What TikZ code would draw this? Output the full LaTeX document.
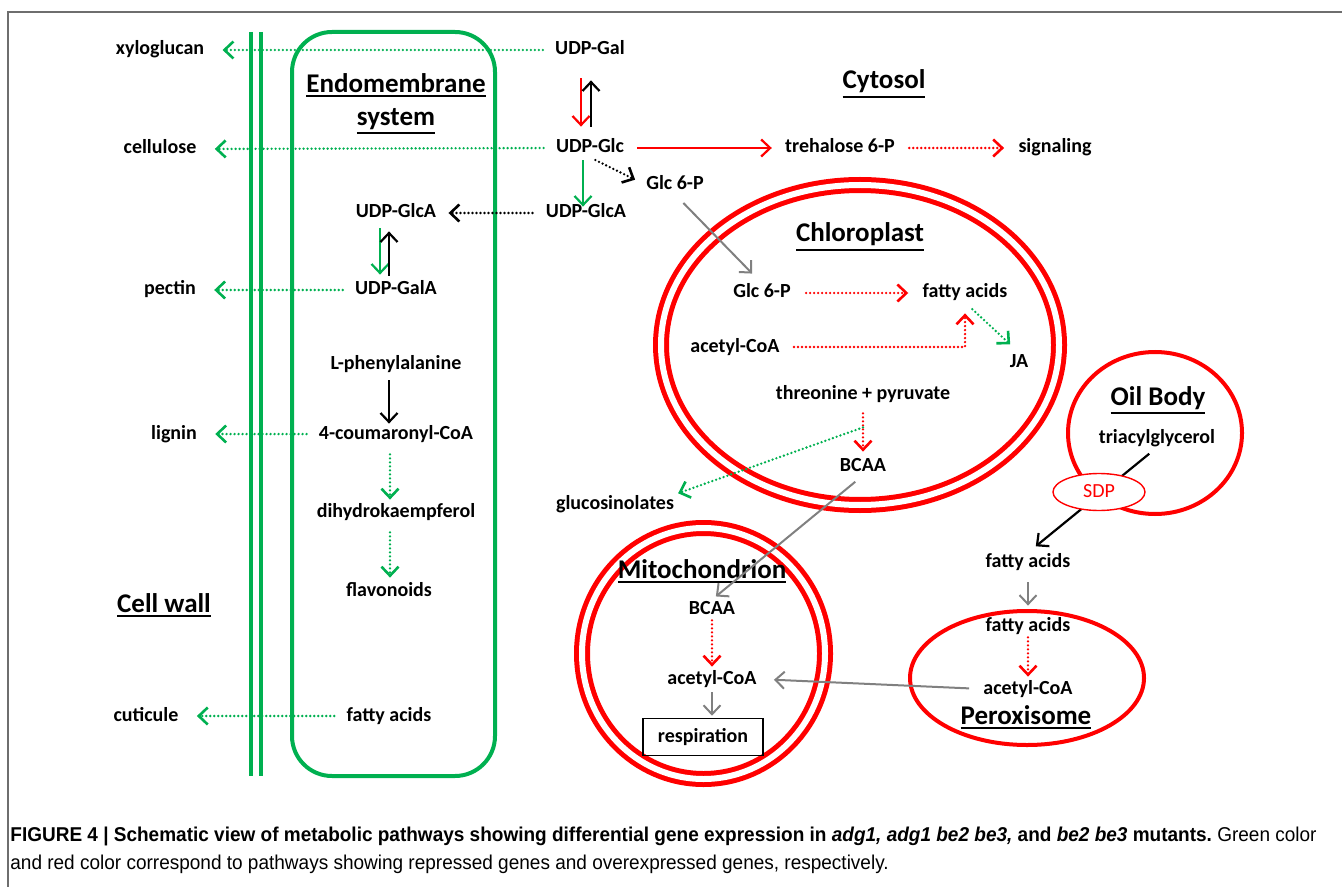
\documentclass[tikz,border=0pt]{standalone}
\usepackage{fontspec}
\setmainfont{Carlito}
\newfontfamily\capfont{Liberation Sans}[FakeStretch=0.95]
\usetikzlibrary{arrows.meta,shapes.geometric}
\definecolor{pathgreen}{RGB}{0,176,80}
\definecolor{pathred}{RGB}{255,0,0}
\definecolor{flowgray}{RGB}{128,128,128}
\definecolor{framegray}{RGB}{110,110,110}
\newcommand{\compartment}[1]{\vtop{\hbox{#1}\kern1.3pt\hrule height 0.9pt}}
\begin{document}
\begin{tikzpicture}[x=0.5pt,y=-0.5pt,>={Straight Barb[length=4.5pt,width=8.5pt]}]
\tikzstyle{every node}+=[inner sep=0pt,font=\bfseries,text height=7pt,text depth=2pt]
\tikzstyle{title}=[font=\fontsize{13.5}{16.5}\selectfont\bfseries,text height={},text depth={}]
\tikzstyle{caption}=[font=\capfont\fontsize{10}{12}\selectfont,text height={},text depth={},anchor=base west]
\tikzstyle{greendot}=[pathgreen,line width=1.3pt,dash pattern=on 0pt off 2pt,line cap=round,->]
\tikzstyle{reddot}=[pathred,line width=1.3pt,dash pattern=on 0pt off 2pt,line cap=round,->]
\tikzstyle{blackdot}=[black,line width=1.3pt,dash pattern=on 0pt off 2pt,line cap=round,->]
\tikzstyle{greenline}=[pathgreen,line width=1.1pt,->]
\tikzstyle{redline}=[pathred,line width=1.1pt,->]
\tikzstyle{blackline}=[black,line width=1.1pt,->]
\tikzstyle{grayline}=[flowgray,line width=1pt,->]
\tikzstyle{towall}=[greendot,shorten <=6pt,shorten >=9pt]
\tikzstyle{membrane}=[draw=pathred,line width=2.5pt,double=white,double distance=3pt]
\tikzstyle{singlemembrane}=[draw=pathred,line width=2pt]
\useasboundingbox (0,0) rectangle (1342,887);
\draw[framegray,line width=0.75pt] (1342,12) -- (8,12) -- (8,887);
\draw[pathgreen,line width=2pt] (251,32) -- (251,776) (261,32) -- (261,776);
\draw[pathgreen,line width=2pt,rounded corners=20pt] (292,32) rectangle (495,776);
\draw[membrane] (860,345) ellipse [x radius=99.5pt,y radius=80pt];
\draw[membrane] (703.5,653.5) ellipse [x radius=60.75pt,y radius=62.75pt];
\draw[singlemembrane] (1155,433) ellipse [x radius=43.5pt,y radius=40.5pt];
\draw[singlemembrane] (1027,678) ellipse [x radius=58.5pt,y radius=33.5pt];
\node (xylo) at (160,50) {xyloglucan};
\node (cellulose) at (160,149) {cellulose};
\node (pectin) at (170,290) {pectin};
\node (lignin) at (174,434) {lignin};
\node (cuticule) at (146,716) {cuticule};
\node[title,anchor=base] (cellwall) at (164,612) {\compartment{Cell wall}};
\node[title,anchor=north,align=center] (endotitle) at (396,73) {\compartment{Endomembrane}\\\compartment{system}};
\node (udpglcaE) at (396,213) {UDP-GlcA};
\node (udpgalaE) at (396,290) {UDP-GalA};
\node (lphe) at (396,364) {L-phenylalanine};
\node (coum) at (396,434) {4-coumaronyl-CoA};
\node (dihydro) at (396,512) {dihydrokaempferol};
\node (flavo) at (389,591) {flavonoids};
\node (fattyE) at (389,716) {fatty acids};
\node (udpgal) at (590,50) {UDP-Gal};
\node (udpglc) at (590,148) {UDP-Glc};
\node (udpglcaC) at (586,213) {UDP-GlcA};
\node (glcC) at (675,185) {Glc 6-P};
\node (treh) at (840,148) {trehalose 6-P};
\node (signal) at (1055,148) {signaling};
\node[title,anchor=base] (cytosol) at (884,89) {\compartment{Cytosol}};
\node[title,anchor=base] (chloro) at (860,242) {\compartment{Chloroplast}};
\node (glcP) at (762,293) {Glc 6-P};
\node (fattyP) at (965,293) {fatty acids};
\node (acetylP) at (735,347) {acetyl-CoA};
\node (ja) at (1019,362) {JA};
\node (thr) at (863,394) {threonine + pyruvate};
\node (bcaaP) at (863,466) {BCAA};
\node (gluco) at (615,504) {glucosinolates};
\node[title,anchor=base] (mito) at (702,578) {\compartment{Mitochondrion}};
\node (bcaaM) at (712,609) {BCAA};
\node (acetylM) at (712,679) {acetyl-CoA};
\node[draw,line width=0.8pt,minimum width=60pt,minimum height=18.5pt] (resp) at (703,737) {respiration};
\node[title,anchor=base] (oilbody) at (1158,405) {\compartment{Oil Body}};
\node (tag) at (1157,438) {triacylglycerol};
\node (fattyC) at (1028,562) {fatty acids};
\node (fattyX) at (1028,626) {fatty acids};
\node (acetylX) at (1028,689) {acetyl-CoA};
\node[title,anchor=base] (perox) at (1026,724) {\compartment{Peroxisome}};
\draw[towall] (udpgal.west) -- (xylo.east);
\draw[towall] (udpglc.west) -- (cellulose.east);
\draw[towall] (udpgalaE.west) -- (pectin.east);
\draw[towall] (coum.west) -- (lignin.east);
\draw[towall] (fattyE.west) -- (cuticule.east);
\draw[redline,shorten <=9.5pt,shorten >=6pt] ([xshift=-4.5pt]udpgal.south) -- ([xshift=-4.5pt]udpglc.north);
\draw[blackline,shorten <=6pt,shorten >=10.5pt] ([xshift=0.5pt]udpglc.north) -- ([xshift=0.5pt]udpgal.south);
\draw[greenline,shorten <=1.5pt,shorten >=-1.5pt] ([xshift=-3.5pt]udpglc.south) -- ([xshift=-3.5pt]udpglc.south |- udpglcaC.north);
\draw[blackdot,shorten <=3pt,shorten >=6pt] (udpglc.south) -- (glcC.west);
\draw[blackdot,shorten <=6.5pt,shorten >=6pt] (udpglcaC.west) -- (udpglcaE.east);
\draw[redline,shorten <=6.5pt,shorten >=6.5pt] (udpglc.east) -- (treh.west);
\draw[reddot,shorten <=7pt,shorten >=7pt] (treh.east) -- (signal.west);
\draw[greenline,shorten <=3pt,shorten >=3pt] ([xshift=-8pt]udpglcaE.south) -- ([xshift=-8pt]udpgalaE.north);
\draw[blackline,shorten <=2.5pt,shorten >=4.5pt] ([xshift=-3.5pt]udpgalaE.north) -- ([xshift=-3.5pt]udpglcaE.south);
\draw[blackline,shorten <=3.5pt,shorten >=0.5pt] ([xshift=-3.5pt]lphe.south) -- ([xshift=-3.5pt]coum.north);
\draw[greendot,shorten <=5.5pt,shorten >=1.5pt] ([xshift=-3pt]coum.south) -- ([xshift=-3pt]dihydro.north);
\draw[greendot,shorten <=5.5pt,shorten >=2pt] ([xshift=-3pt]dihydro.south) -- ([xshift=-3pt]dihydro.south |- flavo.north);
\draw[grayline,shorten <=6pt,shorten >=7pt] (glcC.south) -- (glcP.north);
\draw[reddot,shorten <=7.5pt,shorten >=7pt] (glcP.east) -- (fattyP.west);
\draw[reddot,shorten <=7pt,shorten >=5.5pt] (acetylP.east) -| (fattyP.south);
\draw[greendot,shorten <=5pt,shorten >=6pt] (fattyP.south) -- (ja.north);
\draw[reddot,shorten <=5pt,shorten >=2.5pt] (thr.south) -- (bcaaP.north);
\draw[greendot,shorten >=2pt] ([yshift=-12pt]thr.south) -- (gluco.north east);
\draw[grayline,shorten <=5pt,shorten >=2.5pt] (bcaaP.south) -- (bcaaM.north);
\draw[reddot,shorten <=1pt,shorten >=1.5pt] (bcaaM.south) -- (acetylM.north);
\draw[grayline,shorten <=2pt,shorten >=1pt] (acetylM.south) -- (acetylM.south |- resp.north);
\draw[grayline,shorten <=7pt,shorten >=8.5pt] (acetylX.west) -- (acetylM.east);
\draw[blackline,shorten <=5pt,shorten >=5pt] (tag.south) -- (fattyC.north);
\draw[grayline,shorten <=5.5pt,shorten >=5.5pt] (fattyC.south) -- (fattyX.north);
\draw[reddot,shorten <=1pt,shorten >=1.5pt] (fattyX.south) -- (acetylX.north);
\node[draw=pathred,line width=0.7pt,fill=white,ellipse,minimum width=46pt,minimum height=18.5pt,font=\mdseries,text=pathred] (sdp) at (1099,492) {SDP};
\node[caption] (capone) at (10,841) {\bfseries FIGURE 4 | Schematic view of metabolic pathways showing differential gene expression in \textit{adg1, adg1 be2 be3,} and \textit{be2 be3} mutants.\mdseries\ Green color};
\node[caption] (captwo) at (10,869) {and red color correspond to pathways showing repressed genes and overexpressed genes, respectively.};
\end{tikzpicture}
\end{document}
